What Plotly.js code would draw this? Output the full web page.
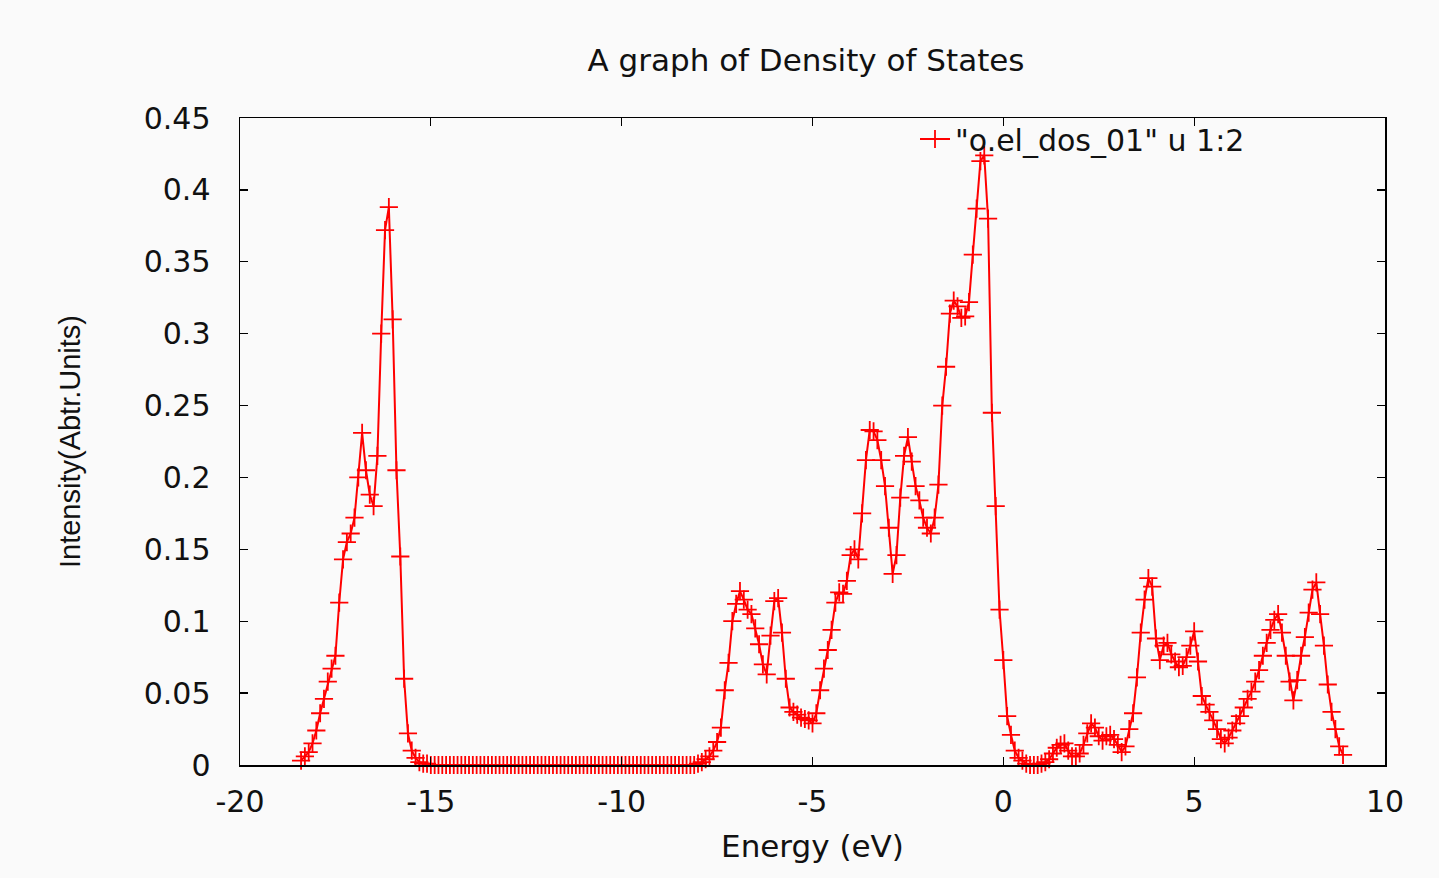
<!DOCTYPE html>
<html>
<head>
<meta charset="utf-8">
<script src="https://cdn.plot.ly/plotly-3.0.1.min.js"></script>
<style>
  html, body { margin: 0; padding: 0; background: #fafafa; }
  #chart { width: 1439px; height: 878px; }
</style>
</head>
<body>
<div id="chart"></div>
<script>
// ---- Data (Energy in eV, DOS in arbitrary units) ----
const energyBand1 = [-18.4,-18.3,-18.2,-18.1,-18.0,-17.9,-17.8,-17.7,-17.6,-17.5,-17.4,-17.3,-17.2,-17.1,-17.0,-16.9,-16.8,-16.7,-16.6,-16.5,-16.4,-16.3,-16.2,-16.1,-16.0,-15.9,-15.8,-15.7,-15.6,-15.5,-15.4,-15.3,-15.2,-15.1,-15.0];
const dosBand1    = [0.003,0.006,0.009,0.015,0.024,0.036,0.046,0.058,0.067,0.076,0.113,0.143,0.155,0.161,0.172,0.200,0.231,0.205,0.188,0.180,0.215,0.300,0.372,0.388,0.310,0.205,0.145,0.060,0.022,0.010,0.005,0.002,0.001,0.001,0.000];

const energyGap = [-14.9,-14.8,-14.7,-14.6,-14.5,-14.4,-14.3,-14.2,-14.1,-14.0,-13.9,-13.8,-13.7,-13.6,-13.5,-13.4,-13.3,-13.2,-13.1,-13.0,-12.9,-12.8,-12.7,-12.6,-12.5,-12.4,-12.3,-12.2,-12.1,-12.0,-11.9,-11.8,-11.7,-11.6,-11.5,-11.4,-11.3,-11.2,-11.1,-11.0,-10.9,-10.8,-10.7,-10.6,-10.5,-10.4,-10.3,-10.2,-10.1,-10.0,-9.9,-9.8,-9.7,-9.6,-9.5,-9.4,-9.3,-9.2,-9.1,-9.0,-8.9,-8.8,-8.7,-8.6,-8.5,-8.4,-8.3,-8.2,-8.1];
const dosGap    = [0,0,0,0,0,0,0,0,0,0,0,0,0,0,0,0,0,0,0,0,0,0,0,0,0,0,0,0,0,0,0,0,0,0,0,0,0,0,0,0,0,0,0,0,0,0,0,0,0,0,0,0,0,0,0,0,0,0,0,0,0,0,0,0,0,0,0,0,0];

const energyBand2 = [-8.0,-7.9,-7.8,-7.7,-7.6,-7.5,-7.4,-7.3,-7.2,-7.1,-7.0,-6.9,-6.8,-6.7,-6.6,-6.5,-6.4,-6.3,-6.2,-6.1,-6.0,-5.9,-5.8,-5.7,-5.6,-5.5,-5.4,-5.3,-5.2,-5.1,-5.0,-4.9,-4.8,-4.7,-4.6,-4.5,-4.4,-4.3,-4.2,-4.1,-4.0,-3.9,-3.8,-3.7,-3.6,-3.5,-3.4,-3.3,-3.2,-3.1,-3.0,-2.9,-2.8,-2.7,-2.6,-2.5,-2.4,-2.3,-2.2,-2.1,-2.0,-1.9,-1.8,-1.7,-1.6,-1.5,-1.4,-1.3,-1.2,-1.1,-1.0,-0.9,-0.8,-0.7,-0.6,-0.5,-0.4,-0.3,-0.2,-0.1,0.0,0.1,0.2,0.3,0.4,0.5,0.6];
const dosBand2    = [0.001,0.002,0.004,0.006,0.010,0.016,0.026,0.052,0.071,0.100,0.112,0.121,0.115,0.108,0.105,0.095,0.084,0.070,0.063,0.090,0.114,0.116,0.092,0.060,0.040,0.037,0.035,0.033,0.032,0.031,0.029,0.036,0.052,0.067,0.080,0.094,0.113,0.120,0.119,0.128,0.146,0.150,0.143,0.175,0.212,0.233,0.232,0.226,0.212,0.194,0.165,0.133,0.146,0.186,0.215,0.228,0.211,0.194,0.184,0.172,0.165,0.161,0.172,0.195,0.250,0.277,0.314,0.323,0.319,0.311,0.312,0.322,0.355,0.387,0.420,0.424,0.380,0.245,0.180,0.108,0.073,0.034,0.021,0.010,0.005,0.003,0.001];

const energyBand3 = [0.7,0.8,0.9,1.0,1.1,1.2,1.3,1.4,1.5,1.6,1.7,1.8,1.9,2.0,2.1,2.2,2.3,2.4,2.5,2.6,2.7,2.8,2.9,3.0,3.1,3.2,3.3,3.4,3.5,3.6,3.7,3.8,3.9,4.0,4.1,4.2,4.3,4.4,4.5,4.6,4.7,4.8,4.9,5.0,5.1,5.2,5.3,5.4,5.5,5.6,5.7,5.8,5.9,6.0,6.1,6.2,6.3,6.4,6.5,6.6,6.7,6.8,6.9,7.0,7.1,7.2,7.3,7.4,7.5,7.6,7.7,7.8,7.9,8.0,8.1,8.2,8.3,8.4,8.5,8.6,8.7,8.8,8.9];
const dosBand3    = [0.000,0.000,0.000,0.001,0.002,0.004,0.008,0.012,0.014,0.015,0.010,0.006,0.006,0.008,0.014,0.022,0.029,0.026,0.020,0.017,0.020,0.021,0.018,0.014,0.009,0.013,0.025,0.036,0.061,0.092,0.115,0.130,0.124,0.088,0.073,0.083,0.085,0.077,0.072,0.068,0.069,0.075,0.083,0.093,0.072,0.048,0.042,0.037,0.031,0.025,0.018,0.015,0.019,0.024,0.029,0.034,0.040,0.046,0.051,0.058,0.066,0.076,0.085,0.094,0.101,0.105,0.092,0.076,0.058,0.045,0.059,0.076,0.089,0.106,0.122,0.127,0.105,0.083,0.056,0.037,0.025,0.013,0.007];

const xTickValues = [-20,-15,-10,-5,0,5,10];
const xTickLabels = ['-20','-15','-10','-5','0','5','10'];
const yTickValues = [0,0.05,0.1,0.15,0.2,0.25,0.3,0.35,0.4,0.45];
const yTickLabels = ['0','0.05','0.1','0.15','0.2','0.25','0.3','0.35','0.4','0.45'];

const seriesName = '"o.el_dos_01" u 1:2';
const chartTitle = 'A graph of Density of States';
const xTitle = 'Energy (eV)';
const yTitle = 'Intensity(Abtr.Units)';

// ---- Build the single trace ----
const energy = [].concat(energyBand1, energyGap, energyBand2, energyBand3);
const dos = [].concat(dosBand1, dosGap, dosBand2, dosBand3);

const textFont = 'DejaVu Sans, Liberation Sans, Arial, sans-serif';

const trace = {
  type: 'scatter',
  mode: 'lines+markers',
  x: energy,
  y: dos,
  name: seriesName,
  line: { color: '#ff0000', width: 2 },
  marker: {
    symbol: 'cross-thin',
    size: 13,
    color: '#ff0000',
    line: { color: '#ff0000', width: 1.8 }
  },
  cliponaxis: false
};

const axisCommon = {
  showline: true,
  linecolor: '#000000',
  linewidth: 1.5,
  mirror: 'ticks',
  ticks: 'inside',
  ticklen: 8,
  tickwidth: 1.3,
  tickcolor: '#000000',
  showgrid: false,
  zeroline: false,
  tickfont: { family: textFont, size: 30, color: '#111111' }
};

const layout = {
  width: 1439,
  height: 878,
  paper_bgcolor: '#fafafa',
  plot_bgcolor: '#fafafa',
  margin: { l: 240, r: 54, t: 118, b: 113, pad: 0 },
  title: {
    text: chartTitle,
    font: { family: textFont, size: 31, color: '#111111' },
    xref: 'container', x: 806 / 1439, xanchor: 'center',
    yref: 'container', y: 1 - 60 / 878, yanchor: 'middle'
  },
  xaxis: Object.assign({}, axisCommon, {
    range: [-20, 10],
    tickmode: 'array',
    tickvals: xTickValues,
    ticktext: xTickLabels,
    ticklabelstandoff: 9,
    title: { text: xTitle, font: { family: textFont, size: 31, color: '#111111' }, standoff: 18 }
  }),
  yaxis: Object.assign({}, axisCommon, {
    range: [0, 0.45],
    tickmode: 'array',
    tickvals: yTickValues,
    ticktext: yTickLabels,
    ticklabelstandoff: 22,
    title: { text: yTitle, font: { family: 'Liberation Sans, Arial, sans-serif', size: 29, color: '#111111' }, standoff: 54 }
  }),
  showlegend: true,
  legend: {
    x: (915 - 240) / 1145, xanchor: 'left',
    y: 1 + 5 / 647, yanchor: 'top',
    bgcolor: 'rgba(0,0,0,0)',
    borderwidth: 0,
    font: { family: textFont, size: 30, color: '#111111' }
  }
};

Plotly.newPlot('chart', [trace], layout, { displayModeBar: false, staticPlot: true });
</script>
</body>
</html>
